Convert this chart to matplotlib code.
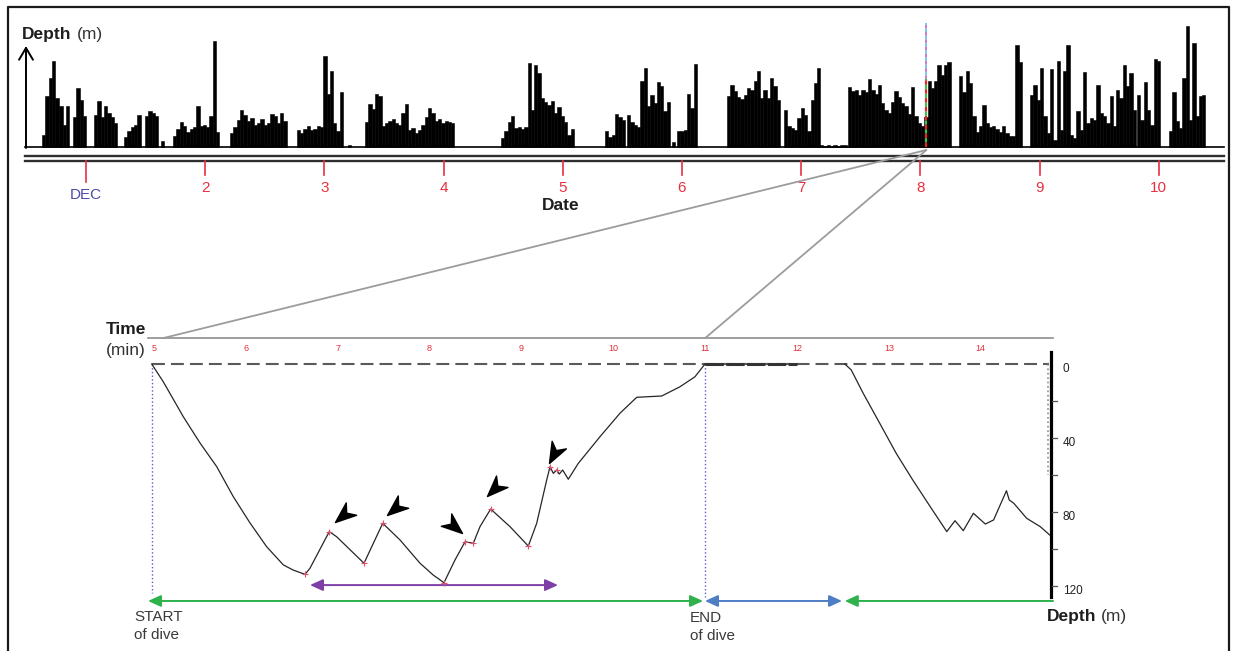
import numpy as np
import matplotlib
matplotlib.use('Agg')
import matplotlib.pyplot as plt
from matplotlib.path import Path
from matplotlib.markers import MarkerStyle
from matplotlib.transforms import Affine2D
from matplotlib.patches import ConnectionPatch

plt.rcParams['font.family'] = ['Liberation Sans', 'DejaVu Sans']

W, H = 1233, 651

# ---------------- top panel: dive record over 10 days (depth in relative units)
DIVE_STEP = 40 / 1440  # days between successive dives inside a bout
bout_start = [0.631, 0.776, 0.891, 1.067, 1.319, 1.495, 1.629, 1.730, 2.208, 2.351,
              2.768, 3.196, 3.341, 4.482, 5.354, 5.539, 5.914, 5.958, 6.378, 6.856,
              7.158, 7.393, 8.324, 8.920, 9.817, 10.086]
bout_depth = [
    [12, 51, 69, 86, 49, 5],
    [41, 22, 41],
    [30, 59, 47, 31],
    [32, 46, 30, 41, 34, 30, 24],
    [10, 16, 20, 22, 32],
    [31, 36, 34, 31],
    [6],
    [11, 18, 25, 21, 15, 18, 20, 41, 21, 22, 20, 31, 106, 15],
    [14, 20, 27, 37, 32],
    [26, 29, 22, 24, 28, 22, 24, 33, 31, 24, 34, 26],
    [17, 14, 18, 21, 17, 18, 21, 20, 91, 53, 76, 24, 16, 55],
    [2],
    [25, 43, 38, 53, 51, 21, 24, 26, 28, 24, 22, 34, 43, 17, 19, 14, 17, 22, 30, 39,
     34, 26, 28, 24, 26, 25, 24],
    [9, 16, 25, 31, 19, 20, 18, 20, 84, 37, 82, 74, 49, 45, 42, 46, 34, 40, 31, 25, 12, 18],
    [16, 10, 12, 33, 30, 27],
    [32, 25, 22, 20, 66, 79, 41, 52, 44, 65, 61, 36, 45],
    [5],
    [16, 16, 17, 53, 39, 83],
    [51, 62, 56, 50, 48, 52, 59, 57, 66, 76, 49, 57, 49, 69, 61, 47],
    [37, 21, 19, 17, 29, 39, 32, 16, 47, 64, 79],
    [2, 1, 2, 1, 2, 1, 2, 2],
    [60, 56, 57, 52, 57, 55, 68, 57, 53, 62, 44, 37, 34, 45, 56, 50, 44, 41, 33, 60,
     31, 24, 21, 30, 66, 59, 66, 82, 72, 82, 85],
    [71, 55, 76, 64, 31, 15, 21, 42, 24, 20, 21, 18, 15, 21, 14, 11, 11, 102, 85],
    [52, 62, 47, 79, 31, 14, 78, 7, 86, 17, 76, 102, 12, 9, 36, 17, 75, 24, 29, 27,
     62, 34, 31, 24, 51, 21, 57, 49, 82, 61, 74, 37],
    [52, 27, 65, 37, 22, 88, 86],
    [16, 55, 26, 19, 69, 121, 27, 104, 31, 51, 52],
]
date_ticks = [1, 2, 3, 4, 5, 6, 7, 8, 9, 10]
date_labels = ['DEC', '2', '3', '4', '5', '6', '7', '8', '9', '10']
record_span = [0.488, 10.547]
DIVE_DAY = 8.05   # the dive zoomed in below
DIVE_BAR = 68

# ---------------- bottom panel: one dive, time in min, depth in m
profile_t = [4.975, 5.101, 5.319, 5.501, 5.683, 5.863, 6.045, 6.227, 6.408, 6.516,
             6.644, 6.698, 6.908, 6.989, 7.286, 7.490, 7.678, 7.896, 8.040, 8.157,
             8.277, 8.386, 8.476, 8.549, 8.665, 8.875, 9.075, 9.166, 9.275, 9.311,
             9.347, 9.384, 9.412, 9.449, 9.510, 9.619, 9.855, 10.073, 10.255, 10.527,
             10.726, 10.889, 10.998]
profile_d = [0, 9.6, 28.5, 42.7, 55.5, 71.7, 85.9, 98.8, 108.6, 111.4,
             113.7, 110.4, 90.6, 93.4, 107.7, 86.1, 95.1, 107.7, 114.1, 118.2,
             105.9, 96.1, 96.9, 87.9, 78.4, 87.9, 98.4, 86.1, 62.7, 55.5,
             59.1, 57.3, 59.5, 57.3, 62.3, 53.7, 39.3, 26.6, 18.0, 17.3,
             12.3, 6.9, 0]
mark_t = [6.644, 6.908, 7.286, 7.490, 8.157, 8.386, 8.476, 8.665, 9.075, 9.311, 9.384]
mark_d = [113.7, 90.6, 107.7, 86.1, 118.2, 96.1, 96.9, 78.4, 98.4, 55.5, 57.3]
surface_t = [10.998, 12.0]
surface_d = [0, 0]
next_t = [12.52, 12.59, 12.72, 12.90, 13.08, 13.26, 13.45, 13.63, 13.72, 13.81,
          13.92, 14.05, 14.14, 14.28, 14.31, 14.36, 14.50, 14.65, 14.75]
next_d = [0, 3.2, 15.8, 32.0, 48.3, 62.7, 77.1, 90.6, 84.7, 90.1,
          80.7, 86.5, 84.3, 68.5, 73.5, 75.3, 83.4, 88.0, 92.4]
# arrowheads pointing at the wiggles
arrow_t = [6.97, 7.54, 8.35, 8.63, 9.30]
arrow_d = [85.2, 81.6, 91.2, 71.4, 53.4]
arrow_ang = [-140, -140, -40, -135, -118]
time_ticks = [5, 6, 7, 8, 9, 10, 11, 12, 13, 14]
depth_ticks = [0, 40, 80, 120]
depth_minor = [20, 60, 100]


def place(ax, x_px, x_val, px_per_x, y_px, y_val, px_per_y):
    """Map data to figure pixels: pixel x_px shows x_val, etc."""
    ax.set_xlim(x_val - x_px / px_per_x, x_val + (W - x_px) / px_per_x)
    ax.set_ylim(y_val - (H - y_px) / px_per_y, y_val + y_px / px_per_y)
    ax.set_axis_off()
    ax.patch.set_alpha(0)


def draw_top(ax):
    for start, depths in zip(bout_start, bout_depth):
        t = start + DIVE_STEP * np.arange(len(depths))
        ax.bar(t, depths, width=DIVE_STEP, align='edge', color='black',
               edgecolor='black', linewidth=0.4)
    ax.plot(record_span, [0, 0], color='black', lw=1.2)
    # double line under the record
    for y in (-8.5, -14):
        ax.plot(record_span, [y, y], color='#2e2e2e', lw=1.7)
    for d, lab in zip(date_ticks, date_labels):
        if lab == 'DEC':
            ax.plot([d, d], [-14, -35], color='#e8303f', lw=1.2)
            ax.text(d, -48, lab, color='#4b4ba8', fontsize=11, ha='center', va='center')
        else:
            ax.plot([d, d], [-14, -28], color='#e8303f', lw=1.2)
            ax.text(d, -41, lab, color='#e8303f', fontsize=11, ha='center', va='center')
    # highlighted dive
    ax.plot([DIVE_DAY, DIVE_DAY], [0, DIVE_BAR], color='#e3262a', gapcolor='#3cc04a',
            lw=1.6, ls=(0, (2, 2)))
    ax.plot([DIVE_DAY, DIVE_DAY], [DIVE_BAR, 124], color='#c070c8', gapcolor='#6cc6e8',
            lw=1.3, ls=(0, (2, 2)))


def arrowhead(angle):
    verts = [(0, 0), (-1.6, 0.62), (-1.12, 0), (-1.6, -0.62), (0, 0)]
    codes = [Path.MOVETO, Path.LINETO, Path.LINETO, Path.LINETO, Path.CLOSEPOLY]
    return MarkerStyle(Path(verts, codes), transform=Affine2D().rotate_deg(angle))


def draw_bottom(ax):
    t_axis = -14
    ax.plot([4.93, 14.79], [t_axis, t_axis], color='#8e8e8e', lw=1.2)
    for t in time_ticks:
        ax.text(t, -8.4, str(t), color='#e0303a', fontsize=6.5, ha='center', va='center')
    # surface reference
    ax.plot([4.98, 14.74], [0, 0], color='#5a5a5a', lw=1.5, dashes=(6.2, 2.9), zorder=1)
    # start / end of dive
    ax.plot([4.975, 4.975], [0, 124], color='#5b5bd0', lw=1.0, ls=':')
    ax.plot([10.998, 10.998], [0, 126], color='#5b5bd0', lw=1.0, ls=':')

    ax.plot(profile_t, profile_d, color='#262626', lw=0.9, zorder=3)
    ax.plot(surface_t, surface_d, color='#333333', lw=2.2, dashes=(6, 0.8), zorder=3)
    ax.plot(next_t, next_d, color='#262626', lw=0.9, zorder=3)
    ax.plot(mark_t, mark_d, '+', color='#e0506a', ms=5, mew=0.8, zorder=4)
    for t, d, a in zip(arrow_t, arrow_d, arrow_ang):
        ax.plot(t, d, marker=arrowhead(a), ms=30, color='black', ls='none', zorder=5)

    # depth axis on the right
    ax.plot([14.765, 14.765], [-6.5, 126], color='black', lw=2.3)
    ax.plot([14.735, 14.735], [0, 60], color='#8a8a8a', lw=1.2, ls=':')
    for d in depth_ticks[1:] + depth_minor:
        ax.plot([14.78, 14.83], [d, d], color='#555555', lw=0.9)
    for d in depth_ticks:
        ax.text(14.895, d + 2.5, str(d), fontsize=8.5, ha='left', va='center', color='#222222')

    arrows = [((6.698, 119.5), (9.398, 119.5), '<|-|>', '#7e3fa6'),
              ((4.935, 128.1), (10.977, 128.1), '<|-|>', '#2fb14c'),
              ((10.998, 128.1), (12.49, 128.1), '<|-|>', '#4d7ec4'),
              ((14.787, 128.1), (12.52, 128.1), '-|>', '#2fb14c')]
    for a, b, style, col in arrows:
        ax.annotate('', xy=b, xytext=a,
                    arrowprops=dict(arrowstyle=style + ',head_length=0.55,head_width=0.25',
                                    color=col, lw=1.4, mutation_scale=14,
                                    shrinkA=0, shrinkB=0))


def plot_dive_figure():
    fig = plt.figure(figsize=(W / 100, H / 100), dpi=100)
    ax_px = fig.add_axes([0, 0, 1, 1])
    ax_px.set_xlim(0, W)
    ax_px.set_ylim(H, 0)
    ax_px.set_axis_off()
    ax_top = fig.add_axes([0, 0, 1, 1])
    ax_bot = fig.add_axes([0, 0, 1, 1])
    place(ax_top, 86, 1, 119.2, 147, 0, 1.0)
    place(ax_bot, 154, 5, 91.86, 364, 0, -1.85)

    draw_top(ax_top)
    draw_bottom(ax_bot)

    # zoom lines from the selected dive to the detail panel
    for t_end in (5.1, 11.0):
        con = ConnectionPatch(xyA=(DIVE_DAY, -3), coordsA=ax_top.transData,
                              xyB=(t_end, -14), coordsB=ax_bot.transData,
                              color='#9c9c9c', lw=1.3)
        fig.add_artist(con)

    # frame
    ax_px.plot([8, 8, 1229, 1229], [651, 7, 7, 651], color='#1a1a1a', lw=1.6)

    # labels
    ax_px.annotate('', xy=(26, 46), xytext=(26, 148),
                   arrowprops=dict(arrowstyle='->,head_length=0.85,head_width=0.5',
                                   lw=1.4, color='black', shrinkA=0, shrinkB=0))
    ax_px.text(22, 35, 'Depth', fontsize=12.5, fontweight='bold', va='center', color='#1e1e1e')
    ax_px.text(77, 35, '(m)', fontsize=12.5, va='center', color='#333333')
    ax_px.text(561, 206, 'Date', fontsize=12.5, fontweight='bold', ha='center', va='center',
               color='#1e1e1e')
    ax_px.text(106, 330, 'Time', fontsize=12.5, fontweight='bold', va='center', color='#1e1e1e')
    ax_px.text(106, 351, '(min)', fontsize=12.5, va='center', color='#333333')
    ax_px.text(134, 617, 'START', fontsize=11, va='center', color='#3a3a3a')
    ax_px.text(134, 635, 'of dive', fontsize=11, va='center', color='#3a3a3a')
    ax_px.text(690, 618, 'END', fontsize=11, va='center', color='#3a3a3a')
    ax_px.text(690, 636, 'of dive', fontsize=11, va='center', color='#3a3a3a')
    ax_px.text(1047, 617, 'Depth', fontsize=12.5, fontweight='bold', va='center', color='#1e1e1e')
    ax_px.text(1101, 617, '(m)', fontsize=12.5, va='center', color='#333333')

    fig.savefig('out.png', dpi=100)


if __name__ == '__main__':
    plot_dive_figure()
